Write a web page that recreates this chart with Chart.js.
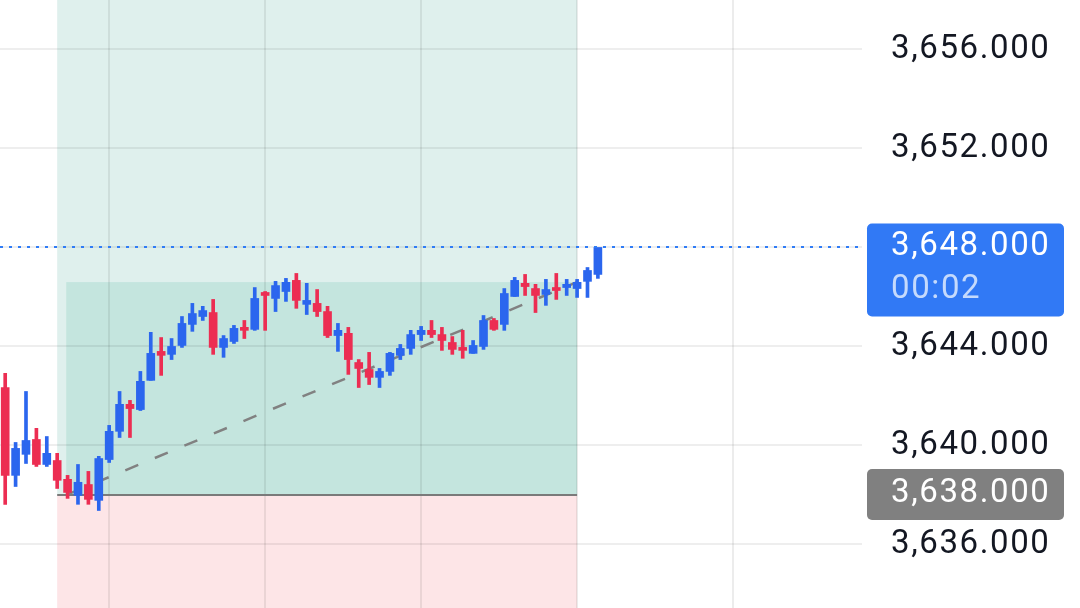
<!DOCTYPE html>
<html>
<head>
<meta charset="utf-8">
<script src="https://cdn.jsdelivr.net/npm/chart.js@4.4.1/dist/chart.umd.min.js"></script>
<style>
  html, body { margin: 0; padding: 0; background: #fff; }
  #wrap { width: 1080px; height: 608px; position: relative; }
</style>
</head>
<body>
<div id="wrap"><canvas id="chart"></canvas></div>
<script>
// candle OHLC (one entry per bar, left to right)
const opens = [3642.34, 3638.79, 3639.64, 3640.24, 3639.23, 3639.39, 3638.63, 3637.98, 3638.42, 3637.78,
  3639.43, 3640.57, 3641.66, 3641.45, 3642.63, 3643.80, 3643.68, 3644.04, 3644.89, 3645.21,
  3645.37, 3643.96, 3644.20, 3644.73, 3644.69, 3646.18, 3645.94, 3646.22, 3646.67, 3645.70,
  3645.74, 3645.41, 3644.44, 3644.53, 3643.35, 3643.07, 3642.75, 3642.99, 3643.64, 3643.92,
  3644.48, 3644.65, 3644.48, 3644.16, 3643.96, 3643.72, 3644.00, 3645.05, 3644.89, 3646.02,
  3646.55, 3646.34, 3646.10, 3646.38, 3646.38, 3646.34, 3646.63, 3646.91];
const highs = [3642.91, 3640.12, 3642.18, 3640.69, 3640.36, 3639.68, 3638.79, 3639.23, 3638.95, 3639.56,
  3640.81, 3642.18, 3641.82, 3642.99, 3644.57, 3644.36, 3644.32, 3645.21, 3645.74, 3645.62,
  3645.90, 3644.44, 3644.85, 3645.05, 3646.38, 3646.22, 3646.63, 3646.75, 3646.95, 3646.55,
  3646.30, 3645.62, 3644.93, 3644.77, 3643.47, 3643.76, 3643.11, 3643.76, 3644.08, 3644.65,
  3644.81, 3645.05, 3644.77, 3644.40, 3644.65, 3644.24, 3645.25, 3645.13, 3646.34, 3646.79,
  3646.91, 3646.51, 3646.71, 3646.95, 3646.71, 3646.71, 3647.19, 3647.92];
const lows = [3637.62, 3638.34, 3639.27, 3639.15, 3639.15, 3638.26, 3637.86, 3637.62, 3637.62, 3637.37,
  3639.31, 3640.32, 3640.32, 3641.41, 3642.63, 3642.83, 3643.47, 3643.96, 3644.61, 3645.05,
  3643.68, 3643.56, 3644.12, 3644.32, 3644.65, 3644.65, 3645.41, 3645.82, 3645.54, 3645.29,
  3645.21, 3644.36, 3643.80, 3642.87, 3642.34, 3642.46, 3642.34, 3642.83, 3643.47, 3643.68,
  3644.24, 3644.36, 3643.84, 3643.68, 3643.52, 3643.72, 3643.88, 3644.65, 3644.65, 3646.02,
  3646.06, 3645.37, 3645.66, 3645.90, 3646.06, 3645.98, 3645.98, 3646.75];
const closes = [3638.79, 3639.88, 3640.20, 3639.23, 3639.68, 3638.59, 3638.10, 3638.51, 3637.82, 3639.47,
  3640.57, 3641.66, 3641.49, 3642.59, 3643.72, 3643.64, 3644.00, 3644.93, 3645.33, 3645.45,
  3643.96, 3644.32, 3644.73, 3644.65, 3645.94, 3646.06, 3646.46, 3646.59, 3645.86, 3645.86,
  3645.41, 3644.44, 3644.65, 3643.47, 3643.11, 3642.75, 3642.99, 3643.72, 3643.92, 3644.48,
  3644.65, 3644.48, 3644.24, 3643.88, 3643.84, 3644.04, 3645.05, 3644.69, 3646.14, 3646.67,
  3646.42, 3646.06, 3646.30, 3646.26, 3646.51, 3646.59, 3647.07, 3648.00];

const priceTicks = [3636, 3640, 3644, 3648, 3652, 3656];
const timeGrid = [10, 25, 40, 55, 70];

// long position tool
const entryPrice = 3638;
const zoneStart = 5;
const zoneEnd = 55;
const progressStart = 5.87;
const progressTop = 3646.6;
const lastPrice = 3648;
const countdown = "00:02";

const UP = "#2b66ee";
const DOWN = "#ec2d52";

const idx = opens.map((_, i) => i);
const colors = idx.map(i => closes[i] >= opens[i] ? UP : DOWN);
const wickData = idx.map(i => ({ x: i, y: [lows[i], highs[i]] }));
const bodyData = idx.map(i => ({ x: i, y: [opens[i], closes[i]] }));

function fmt(v) {
  return v.toLocaleString("en-US", { minimumFractionDigits: 3, maximumFractionDigits: 3 });
}

const zones = {
  id: "zones",
  beforeDraw(chart) {
    const { ctx, chartArea: a, scales: { x, y } } = chart;
    ctx.letterSpacing = "1.6px";
    ctx.save();
    ctx.beginPath();
    ctx.rect(a.left, a.top, a.right - a.left, a.bottom - a.top);
    ctx.clip();
    const x0 = x.getPixelForValue(zoneStart), x1 = x.getPixelForValue(zoneEnd);
    const ye = y.getPixelForValue(entryPrice);
    ctx.fillStyle = "#dff0ed";
    ctx.fillRect(x0, a.top, x1 - x0, ye - a.top);
    ctx.fillStyle = "#fde5e7";
    ctx.fillRect(x0, ye, x1 - x0, a.bottom - ye);
    const px = x.getPixelForValue(progressStart), pt = y.getPixelForValue(progressTop);
    ctx.fillStyle = "#c4e5de";
    ctx.fillRect(px, pt, x1 - px, ye - pt);
    ctx.restore();
  },
  beforeDatasetsDraw(chart) {
    const { ctx, scales: { x, y } } = chart;
    const ye = y.getPixelForValue(entryPrice);
    ctx.save();
    ctx.strokeStyle = "#7a7a7a";
    ctx.lineWidth = 2;
    ctx.beginPath();
    ctx.moveTo(x.getPixelForValue(zoneStart), ye);
    ctx.lineTo(x.getPixelForValue(zoneEnd), ye);
    ctx.stroke();
    ctx.setLineDash([14, 18]);
    ctx.lineWidth = 2.5;
    ctx.strokeStyle = "#818181";
    ctx.beginPath();
    ctx.moveTo(x.getPixelForValue(progressStart), ye);
    ctx.lineTo(x.getPixelForValue(zoneEnd), y.getPixelForValue(progressTop));
    ctx.stroke();
    ctx.restore();
  },
  afterDatasetsDraw(chart) {
    const { ctx, chartArea: a, scales: { y } } = chart;
    const yp = Math.round(y.getPixelForValue(lastPrice));
    ctx.save();
    ctx.strokeStyle = "#2f7cf6";
    ctx.lineWidth = 2;
    ctx.setLineDash([3, 6]);
    ctx.beginPath();
    ctx.moveTo(a.left, yp);
    ctx.lineTo(a.right, yp);
    ctx.stroke();
    ctx.restore();
  },
  afterDraw(chart) {
    const { ctx, chartArea: a, scales: { y } } = chart;
    const bx = a.right + 5, bw = 197;
    const tx = a.right + 29;
    ctx.save();
    ctx.font = "33px Roboto";
    ctx.textBaseline = "middle";
    ctx.textAlign = "left";
    // last price
    const yp = y.getPixelForValue(lastPrice);
    ctx.fillStyle = "#3179f5";
    ctx.beginPath();
    ctx.roundRect(bx, yp - 24, bw, 93, 5);
    ctx.fill();
    ctx.fillStyle = "#ffffff";
    ctx.fillText(fmt(lastPrice), tx, yp - 1);
    ctx.fillStyle = "rgba(255,255,255,0.72)";
    ctx.fillText(countdown, tx, yp + 42);
    // entry price
    const ye = y.getPixelForValue(entryPrice);
    ctx.fillStyle = "#808080";
    ctx.beginPath();
    ctx.roundRect(bx, ye - 26, bw, 51, 5);
    ctx.fill();
    ctx.fillStyle = "#ffffff";
    ctx.fillText(fmt(entryPrice), tx, ye - 1);
    ctx.restore();
  }
};

new Chart(document.getElementById("chart"), {
  type: "bar",
  data: {
    datasets: [
      {
        data: wickData,
        backgroundColor: colors,
        barThickness: 3,
        grouped: false,
      },
      {
        data: bodyData,
        backgroundColor: colors,
        barThickness: 8,
        minBarLength: 3,
        grouped: false,
      },
    ],
  },
  options: {
    responsive: true,
    maintainAspectRatio: false,
    animation: false,
    layout: { padding: 0 },
    plugins: { legend: { display: false }, tooltip: { enabled: false } },
    scales: {
      x: {
        type: "linear",
        offset: false,
        min: -0.5,
        max: 82.4,
        afterBuildTicks: (s) => { s.ticks = timeGrid.map(v => ({ value: v })); },
        afterFit: (s) => { s.height = 0; s.paddingLeft = 0; s.paddingRight = 0; },
        ticks: { display: false },
        grid: { color: "rgba(0,0,0,0.075)", lineWidth: 2, drawTicks: false, offset: false },
        border: { display: false },
      },
      y: {
        position: "right",
        min: 3633.43,
        max: 3658.0,
        afterBuildTicks: (s) => { s.ticks = priceTicks.map(v => ({ value: v })); },
        afterFit: (s) => { s.width = 218; s.paddingTop = 0; s.paddingBottom = 0; },
        ticks: {
          padding: 29,
          color: "#131722",
          font: { family: "Roboto", size: 33 },
          callback: (v) => fmt(v),
        },
        grid: { color: "rgba(0,0,0,0.065)", lineWidth: 2, drawTicks: false },
        border: { display: false },
      },
    },
  },
  plugins: [zones],
});
</script>
</body>
</html>
